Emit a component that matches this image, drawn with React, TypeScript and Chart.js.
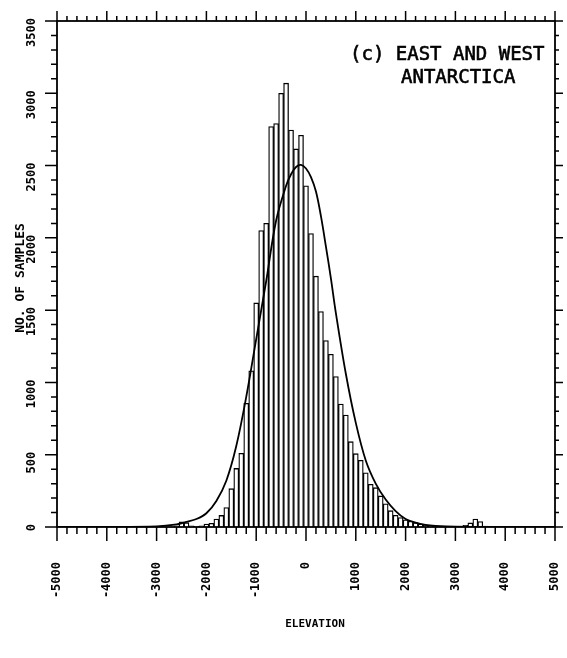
import { useEffect, useRef } from "react";
import { Chart, registerables } from "chart.js";

Chart.register(...registerables);

// Histogram bins (centre elevation, m) and counts
const binCenters = [
  -2600, -2500, -2400, -2300, -2200, -2100, -2000, -1900, -1800, -1700,
  -1600, -1500, -1400, -1300, -1200, -1100, -1000, -900, -800, -700,
  -600, -500, -400, -300, -200, -100, 0, 100, 200, 300,
  400, 500, 600, 700, 800, 900, 1000, 1100, 1200, 1300,
  1400, 1500, 1600, 1700, 1800, 1900, 2000, 2100, 2200, 2300,
  2400, 2500, 2600, 2700, 2800, 2900, 3000, 3100, 3200, 3300,
  3400, 3500, 3600,
];
const binCounts = [
  8, 35, 30, 8, 5, 8, 20, 25, 55, 80,
  135, 265, 405, 510, 855, 1080, 1550, 2050, 2100, 2770,
  2790, 3000, 3070, 2745, 2615, 2710, 2360, 2030, 1735, 1490,
  1290, 1195, 1040, 850, 775, 590, 507, 461, 375, 295,
  272, 215, 160, 113, 81, 66, 50, 40, 30, 20,
  14, 9, 6, 4, 3, 3, 3, 5, 12, 28,
  55, 38, 6,
];

// Fitted curve
const curveElev = [
  -5000, -4000, -3000, -2600, -2400, -2200, -2000, -1800, -1600, -1400,
  -1200, -1000, -800, -600, -400, -300, -200, -100, 0, 100,
  200, 300, 400, 500, 600, 800, 1000, 1200, 1400, 1600,
  1800, 2000, 2200, 2400, 2600, 3000, 4000, 5000,
];
const curveCount = [
  0, 0, 4, 18, 35, 55, 95, 180, 320, 560,
  900, 1300, 1700, 2120, 2360, 2440, 2490, 2505, 2480, 2420,
  2320, 2150, 1940, 1720, 1480, 1060, 720, 460, 300, 190,
  110, 55, 30, 15, 8, 2, 0, 0,
];

const xTickValues = [-5000, -4000, -3000, -2000, -1000, 0, 1000, 2000, 3000, 4000, 5000];
const xTickLabels = ["-5000", "-4000", "-3000", "-2000", "-1000", "0", "1000", "2000", "3000", "4000", "5000"];
const yTickValues = [0, 500, 1000, 1500, 2000, 2500, 3000, 3500];
const yTickLabels = ["0", "500", "1000", "1500", "2000", "2500", "3000", "3500"];

const xTitle = "ELEVATION";
const yTitle = "NO. OF SAMPLES";
const noteLines = ["(c) EAST AND WEST", "ANTARCTICA"];

const MONO = '"DejaVu Sans Mono", monospace';

const framePlugin = {
  id: "frame",
  afterDatasetsDraw(chart: any) {
    const { ctx, chartArea: a, scales } = chart;
    const x = scales.x;
    const y = scales.y;
    ctx.save();
    ctx.strokeStyle = "#000";
    ctx.lineWidth = 1.8;
    ctx.strokeRect(a.left, a.top, a.right - a.left, a.bottom - a.top);

    ctx.lineWidth = 1.5;
    ctx.beginPath();
    for (let v = -5000; v <= 5000; v += 200) {
      const px = x.getPixelForValue(v);
      const major = v % 1000 === 0;
      ctx.moveTo(px, a.bottom);
      ctx.lineTo(px, a.bottom + (major ? 14 : 7));
      ctx.moveTo(px, a.top);
      ctx.lineTo(px, a.top - (major ? 10 : 5));
    }
    for (let v = 0; v <= 3500; v += 100) {
      const py = y.getPixelForValue(v);
      const major = v % 500 === 0;
      ctx.moveTo(a.left, py);
      ctx.lineTo(a.left - (major ? 12 : 6), py);
      ctx.moveTo(a.right, py);
      ctx.lineTo(a.right + (major ? 8 : 4), py);
    }
    ctx.stroke();

    ctx.fillStyle = "#000";
    ctx.font = `bold 12px ${MONO}`;
    ctx.textAlign = "right";
    ctx.textBaseline = "middle";
    xTickValues.forEach((v, i) => {
      const px = x.getPixelForValue(v);
      ctx.save();
      ctx.translate(px, 562);
      ctx.rotate(-Math.PI / 2);
      ctx.fillText(xTickLabels[i], 0, 0);
      ctx.restore();
    });
    yTickValues.forEach((v, i) => {
      const py = y.getPixelForValue(v);
      ctx.save();
      ctx.translate(32, py - 3);
      ctx.rotate(-Math.PI / 2);
      ctx.fillText(yTickLabels[i], 0, 0);
      ctx.restore();
    });

    // axis titles
    ctx.textAlign = "center";
    ctx.font = `bold 11px ${MONO}`;
    ctx.fillText(xTitle, 315, 624);
    ctx.save();
    ctx.font = `bold 13px ${MONO}`;
    ctx.translate(21, 278);
    ctx.rotate(-Math.PI / 2);
    ctx.fillText(yTitle, 0, 0);
    ctx.restore();

    // annotation
    ctx.textAlign = "left";
    ctx.textBaseline = "alphabetic";
    ctx.font = `19px ${MONO}`;
    ctx.lineWidth = 0.6;
    ctx.fillText(noteLines[0], 350, 60);
    ctx.strokeText(noteLines[0], 350, 60);
    ctx.fillText(noteLines[1], 401, 83);
    ctx.strokeText(noteLines[1], 401, 83);
    ctx.restore();
  },
};

export default function App() {
  const ref = useRef<HTMLCanvasElement | null>(null);
  useEffect(() => {
    if (!ref.current) return;
    const chart = new Chart(ref.current, {
      type: "bar",
      data: {
        datasets: [
          {
            type: "line",
            data: curveElev.map((e, i) => ({ x: e, y: curveCount[i] })),
            borderColor: "#000",
            borderWidth: 1.8,
            pointRadius: 0,
            fill: false,
            tension: 0.35,
            order: 0,
          } as any,
          {
            type: "bar",
            data: binCenters.map((c, i) => ({ x: c, y: binCounts[i] })),
            backgroundColor: "#fff",
            borderColor: "#000",
            borderWidth: 1.3,
            barPercentage: 1,
            categoryPercentage: 1,
            order: 1,
          } as any,
        ],
      },
      options: {
        responsive: false,
        animation: false,
        devicePixelRatio: 1,
        layout: { padding: { top: 21, right: 12, left: 0, bottom: 0 } },
        plugins: { legend: { display: false }, tooltip: { enabled: false } },
        scales: {
          x: {
            type: "linear",
            min: -5000,
            max: 5000,
            offset: false,
            ticks: { display: false, stepSize: 1000 },
            grid: { display: false, offset: false },
            border: { display: false },
            afterFit: (s: any) => {
              s.height = 131;
            },
          },
          y: {
            type: "linear",
            min: 0,
            max: 3500,
            ticks: { display: false, stepSize: 500 },
            grid: { display: false },
            border: { display: false },
            afterFit: (s: any) => {
              s.width = 57;
            },
          },
        },
      },
      plugins: [framePlugin],
    });
    return () => chart.destroy();
  }, []);
  return (
    <div style={{ position: "fixed", left: 0, top: 0, width: 567, height: 658, background: "#fff" }}>
      <canvas ref={ref} width={567} height={658} style={{ width: 567, height: 658, display: "block" }} />
    </div>
  );
}
